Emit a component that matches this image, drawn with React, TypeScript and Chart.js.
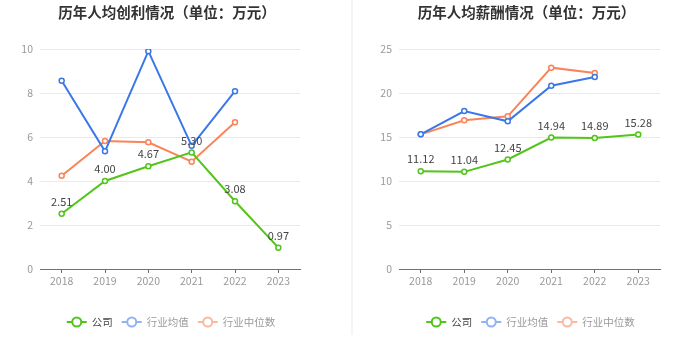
import React, { useEffect, useRef } from "react";
import { Chart, registerables } from "chart.js";

Chart.register(...registerables);

const years = ["2018", "2019", "2020", "2021", "2022", "2023"];
const seriesNames = ["公司", "行业均值", "行业中位数"];

const profitCompany = [2.51, 4.0, 4.67, 5.3, 3.08, 0.97];
const profitIndustryMean = [8.56, 5.35, 9.9, 5.6, 8.08, null];
const profitIndustryMedian = [4.24, 5.82, 5.76, 4.88, 6.67, null];

const salaryCompany = [11.12, 11.04, 12.45, 14.94, 14.89, 15.28];
const salaryIndustryMean = [15.3, 17.95, 16.78, 20.83, 21.82, null];
const salaryIndustryMedian = [15.3, 16.9, 17.35, 22.88, 22.27, null];

const profitTitle = "历年人均创利情况（单位：万元）";
const salaryTitle = "历年人均薪酬情况（单位：万元）";

const FONT = '"Noto Sans CJK SC", "Noto Sans", sans-serif';
const GREEN = "#52c41a";
const BLUE = "#3b78e7";
const ORANGE = "#fa8458";
const LEGEND_COLORS = [GREEN, "#92b2f0", "#fbb9a0"];
const LEGEND_TEXT = ["#444", "#9a9a9a", "#9a9a9a"];

type Cfg = {
  title: string;
  data: (number | null)[][];
  max: number;
  step: number;
  leftWidth: number;
  rightPad: number;
};

const customPlugin = {
  id: "custom",
  afterDatasetsDraw(chart: any, _args: any, opts: any) {
    const ctx = chart.ctx;
    const area = chart.chartArea;
    const cx = (area.left + area.right) / 2;
    ctx.save();
    // data labels for company series
    const meta = chart.getDatasetMeta(0);
    const vals = chart.data.datasets[0].data;
    ctx.font = `11px ${FONT}`;
    ctx.fillStyle = "#444";
    ctx.textAlign = "center";
    ctx.textBaseline = "middle";
    meta.data.forEach((pt: any, i: number) => {
      const v = vals[i];
      if (v == null) return;
      ctx.fillText(Number(v).toFixed(2), pt.x, pt.y - 12);
    });
    // title
    ctx.font = `bold 14.5px ${FONT}`;
    ctx.fillStyle = "#333";
    ctx.fillText(opts.title, cx - 3, 12);
    // legend
    ctx.font = `10.5px ${FONT}`;
    const markerW = 20;
    const gapText = 5;
    const gapItem = 9;
    const widths = seriesNames.map((n) => ctx.measureText(n).width);
    let total = 0;
    widths.forEach((w, i) => {
      total += markerW + gapText + w + (i < widths.length - 1 ? gapItem : 0);
    });
    let x = cx + 1 - total / 2;
    const y = 322;
    seriesNames.forEach((n, i) => {
      const c = LEGEND_COLORS[i];
      ctx.strokeStyle = c;
      ctx.lineWidth = 2;
      ctx.beginPath();
      ctx.moveTo(x, y);
      ctx.lineTo(x + markerW, y);
      ctx.stroke();
      ctx.beginPath();
      ctx.arc(x + markerW / 2, y, 4.5, 0, Math.PI * 2);
      ctx.fillStyle = "#fff";
      ctx.fill();
      ctx.stroke();
      ctx.fillStyle = LEGEND_TEXT[i];
      ctx.textAlign = "left";
      ctx.fillText(n, x + markerW + gapText, y);
      x += markerW + gapText + widths[i] + gapItem;
    });
    ctx.restore();
  },
};

function makeDataset(label: string, data: (number | null)[], color: string) {
  return {
    label,
    data,
    borderColor: color,
    backgroundColor: color,
    borderWidth: 2,
    tension: 0,
    pointRadius: 2.5,
    pointBorderWidth: 1.5,
    pointBackgroundColor: "#fff",
    pointBorderColor: color,
    spanGaps: false,
  };
}

function LineChart({ cfg }: { cfg: Cfg }) {
  const ref = useRef<HTMLCanvasElement | null>(null);
  useEffect(() => {
    if (!ref.current) return;
    const chart = new Chart(ref.current, {
      type: "line",
      data: {
        labels: years,
        datasets: [
          makeDataset(seriesNames[0], cfg.data[0], GREEN),
          makeDataset(seriesNames[1], cfg.data[1], BLUE),
          makeDataset(seriesNames[2], cfg.data[2], ORANGE),
        ],
      },
      options: {
        responsive: false,
        animation: false,
        devicePixelRatio: 1,
        layout: { padding: { left: 0, right: cfg.rightPad, top: 49, bottom: 61 } },
        plugins: {
          legend: { display: false },
          title: { display: false },
          tooltip: { enabled: false },
          custom: { title: cfg.title },
        } as any,
        scales: {
          x: {
            offset: true,
            grid: {
              display: true,
              drawOnChartArea: false,
              drawTicks: true,
              tickLength: 4,
              tickColor: "#6e7079",
              offset: false,
            },
            border: { display: true, color: "#6e7079", width: 1 },
            ticks: { color: "#999", font: { size: 10.5, family: FONT }, padding: 2, maxRotation: 0 },
            afterFit: (s: any) => {
              s.height = 30;
            },
          },
          y: {
            min: 0,
            max: cfg.max,
            ticks: { stepSize: cfg.step, color: "#999", font: { size: 10.5, family: FONT }, padding: 7 },
            grid: { color: "#e6e9f1", drawTicks: false, lineWidth: 1 },
            border: { display: false },
            afterFit: (s: any) => {
              s.width = cfg.leftWidth;
            },
          },
        },
      } as any,
      plugins: [customPlugin],
    });
    return () => chart.destroy();
  }, [cfg]);
  return <canvas ref={ref} width={350} height={360} style={{ width: 350, height: 360, display: "block" }} />;
}

const profitCfg: Cfg = {
  title: profitTitle,
  data: [profitCompany, profitIndustryMean, profitIndustryMedian],
  max: 10,
  step: 2,
  leftWidth: 40,
  rightPad: 50,
};

const salaryCfg: Cfg = {
  title: salaryTitle,
  data: [salaryCompany, salaryIndustryMean, salaryIndustryMedian],
  max: 25,
  step: 5,
  leftWidth: 49,
  rightPad: 40,
};

export default function App() {
  return (
    <div style={{ position: "absolute", left: 0, top: 0, width: 700, height: 360, background: "#fff", overflow: "hidden" }}>
      <div style={{ position: "absolute", left: 0, top: 0 }}>
        <LineChart cfg={profitCfg} />
      </div>
      <div style={{ position: "absolute", left: 351, top: 0, width: 2, height: 335, background: "#f4f4f4" }} />
      <div style={{ position: "absolute", left: 350, top: 0 }}>
        <LineChart cfg={salaryCfg} />
      </div>
    </div>
  );
}
